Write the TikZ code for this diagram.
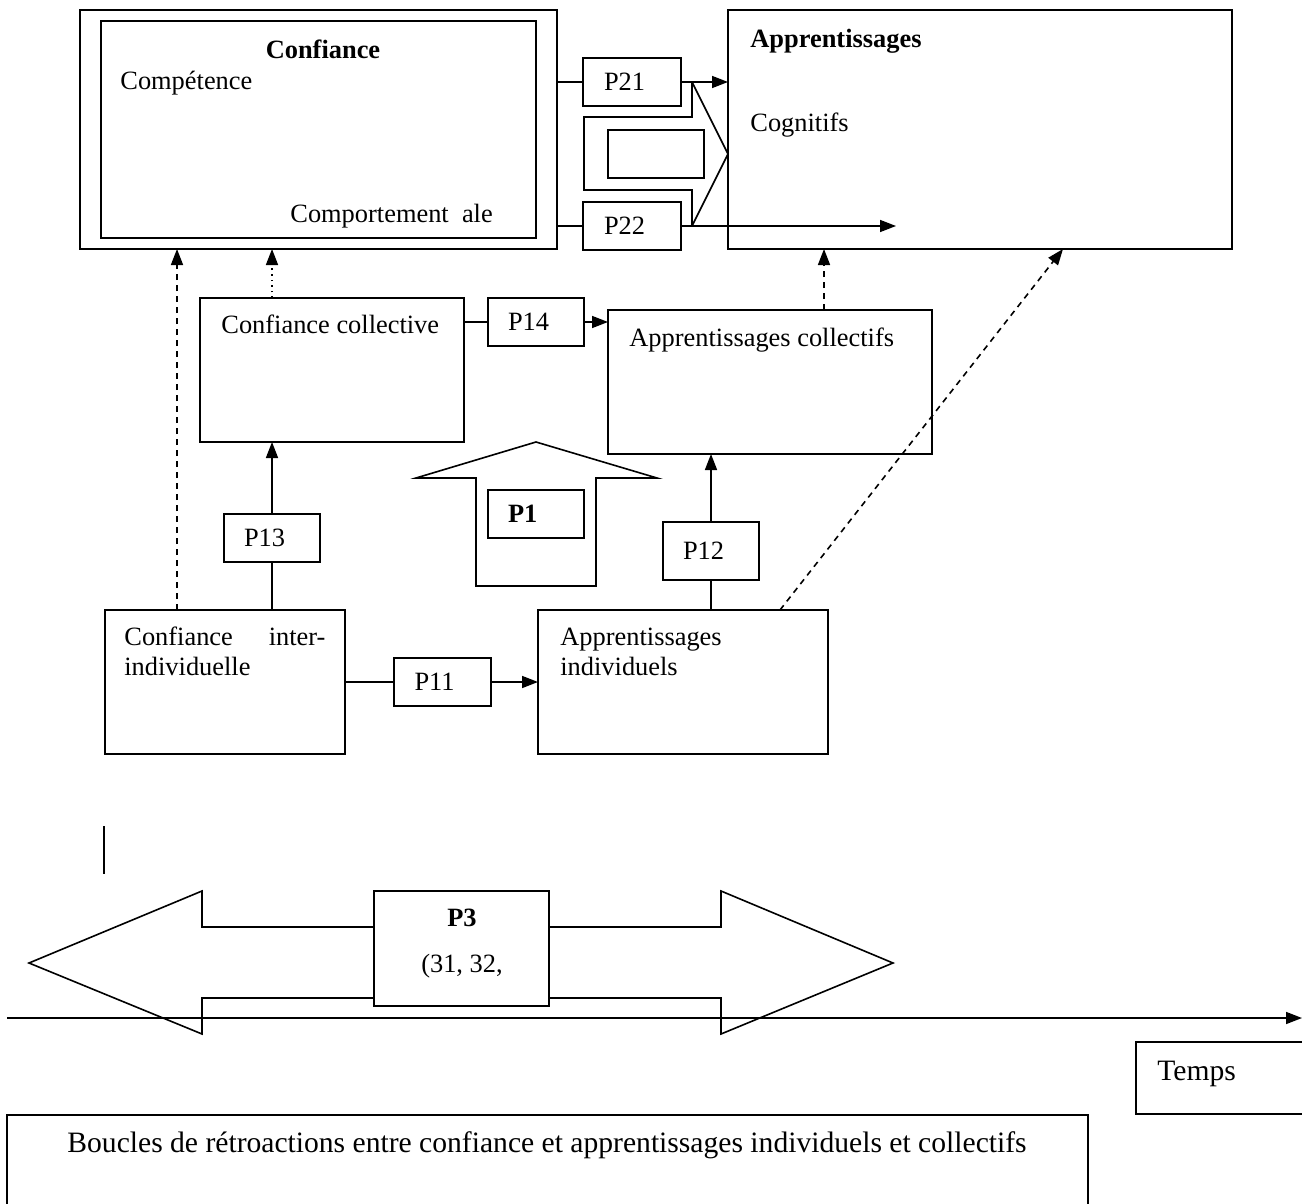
\documentclass[tikz,border=0pt]{standalone}
\usepackage{fontspec}
\setmainfont{Liberation Serif}
\usetikzlibrary{arrows.meta}
\begin{document}
\begin{tikzpicture}[
  x=0.5pt, y=-0.5pt,
  font=\fontsize{13.2}{15}\selectfont,
  box/.style={draw=black, line width=0.8pt, rectangle, anchor=north west,
              inner sep=0pt, outer sep=0pt},
  pbox/.style={box, minimum width=48pt, minimum height=24pt,
               inner xsep=10pt, text width=28pt, align=left},
  txt/.style={anchor=base west, inner sep=0pt},
  big/.style={font=\fontsize{14.8}{17}\selectfont},
  conn/.style={line width=0.8pt},
  arr/.style={conn, -{Triangle[length=8pt, width=6pt]}},
  dsh/.style={arr, dash pattern=on 3pt off 2.5pt},
  dot/.style={arr, dotted},
]
\useasboundingbox (0,0) rectangle (1302,1204);
% Top boxes
\node[box, line width=1.3pt, minimum width=238.5pt, minimum height=119.5pt] (confOut) at (80,10) {};
\node[box, line width=0.7pt, minimum width=217.5pt, minimum height=108.5pt] (confIn) at (101,21) {};
\node[box, minimum width=252pt, minimum height=119.5pt] (appr) at (728,10) {};
\node[txt, anchor=base, font=\fontsize{13.2}{15}\selectfont\bfseries] (tConf) at (323,59) {Confiance};
\node[txt] (tComp) at (120,90) {Compétence};
\node[txt] (tComport) at (290,222) {Comportement\ \ ale};
\node[txt, font=\fontsize{13.2}{15}\selectfont\bfseries] (tAppr) at (750,48) {Apprentissages};
\node[txt] (tCogn) at (750,132) {Cognitifs};
% P2 boxes
\node[pbox, minimum width=49pt] (p21) at (583,58) {P21};
\node[pbox, minimum width=49pt] (p22) at (583,202) {P22};
\node[box, minimum width=48pt, minimum height=24pt] (pmid) at (608,130) {};
\coordinate (vtop) at (692,82);
\coordinate (vbot) at (692,226);
\coordinate (c22) at (896,226);
\draw[conn] (confOut.east |- p21.west) -- (p21.west);
\draw[arr] (p21.east) -- (appr.west |- p21.east);
\draw[conn] (confOut.east |- p22.west) -- (p22.west);
\draw[arr] (p22.east) -- (c22);
\draw[conn] (vtop) -- (appr.west |- pmid.center) -- (vbot);
\draw[conn] (vtop) -- (692,117) -- (584,117) -- (584,190) -- (692,190) -- (vbot);
% Middle boxes
\node[box, minimum width=132pt, minimum height=72pt] (cc) at (200,298) {};
\node[txt] (tCC) at (221,333) {Confiance collective};
\node[pbox] (p14) at (488,298) {P14};
\node[box, minimum width=162pt, minimum height=72pt] (ac) at (608,310) {};
\node[txt] (tAC) at (629,346) {Apprentissages collectifs};
\draw[conn] (cc.east |- p14.west) -- (p14.west);
\draw[arr] (p14.east) -- (ac.west |- p14.east);
% P1 arrow
\draw[conn] (536,442) -- (657,478) -- (596,478) -- (596,586) -- (476,586)
  -- (476,478) -- (416,478) -- cycle;
\node[pbox, font=\fontsize{13.2}{15}\selectfont\bfseries] (p1) at (488,490) {P1};
% Bottom boxes
\node[box, minimum width=120pt, minimum height=72pt] (ci) at (105,610) {};
\node[txt] (tCI1) at (124,645) {\makebox[100.5pt][s]{Confiance inter-}};
\node[txt] (tCI2) at (124,675) {individuelle};
\node[pbox, minimum width=48.5pt] (p11) at (394,658) {P11};
\node[box, minimum width=145pt, minimum height=72pt] (ai) at (538,610) {};
\node[txt] (tAI1) at (560,645) {Apprentissages};
\node[txt] (tAI2) at (560,675) {individuels};
\node[pbox] (p13) at (224,514) {P13};
\node[pbox, minimum height=29pt] (p12) at (663,522) {P12};
\draw[conn] (ci.east |- p11.west) -- (p11.west);
\draw[arr] (p11.east) -- (ai.west |- p11.east);
\draw[conn] (p13.south) -- (p13.south |- ci.north);
\draw[arr] (p13.north) -- (p13.north |- cc.south);
\draw[conn] (p12.south) -- (p12.south |- ai.north);
\draw[arr] (p12.north) -- (p12.north |- ac.south);
% Feedback links
\coordinate (ciD) at (177,610);
\coordinate (ccD) at (272,298);
\coordinate (acD) at (824,310);
\coordinate (aiD) at (780,610);
\coordinate (apD) at (1063,249);
\draw[dsh] (ciD) -- (ciD |- confOut.south);
\draw[dot] (ccD) -- (ccD |- confOut.south);
\draw[dsh] (acD) -- (acD |- appr.south);
\draw[dsh] (aiD) -- (apD);
\draw[line width=0.7pt] (104,826) -- (104,874);
% P3 double arrow
\draw[conn] (29,963) -- (202,891) -- (202,927) -- (721,927) -- (721,891)
  -- (893,963) -- (721,1034) -- (721,998) -- (202,998) -- (202,1034) -- cycle;
\node[box, fill=white, minimum width=87.5pt, minimum height=57.5pt] (p3) at (374,891) {};
\node[txt, anchor=base, font=\fontsize{13.2}{15}\selectfont\bfseries] (tP3) at (462,926) {P3};
\node[txt, anchor=base] (tP3b) at (462,972) {(31, 32,};
% Time axis
\coordinate (t0) at (7,1018);
\coordinate (t1) at (1302,1018);
\draw[arr] (t0) -- (t1);
\node[box, minimum width=90pt, minimum height=36pt] (temps) at (1136,1042) {};
\node[txt, big] (tTemps) at (1157,1080) {Temps};
\node[box, minimum width=540.5pt, minimum height=50pt] (boucles) at (7,1115) {};
\node[txt, big, anchor=base] (tBoucles) at (547,1152)
  {Boucles de rétroactions entre confiance et apprentissages individuels et collectifs};
\end{tikzpicture}
\end{document}
